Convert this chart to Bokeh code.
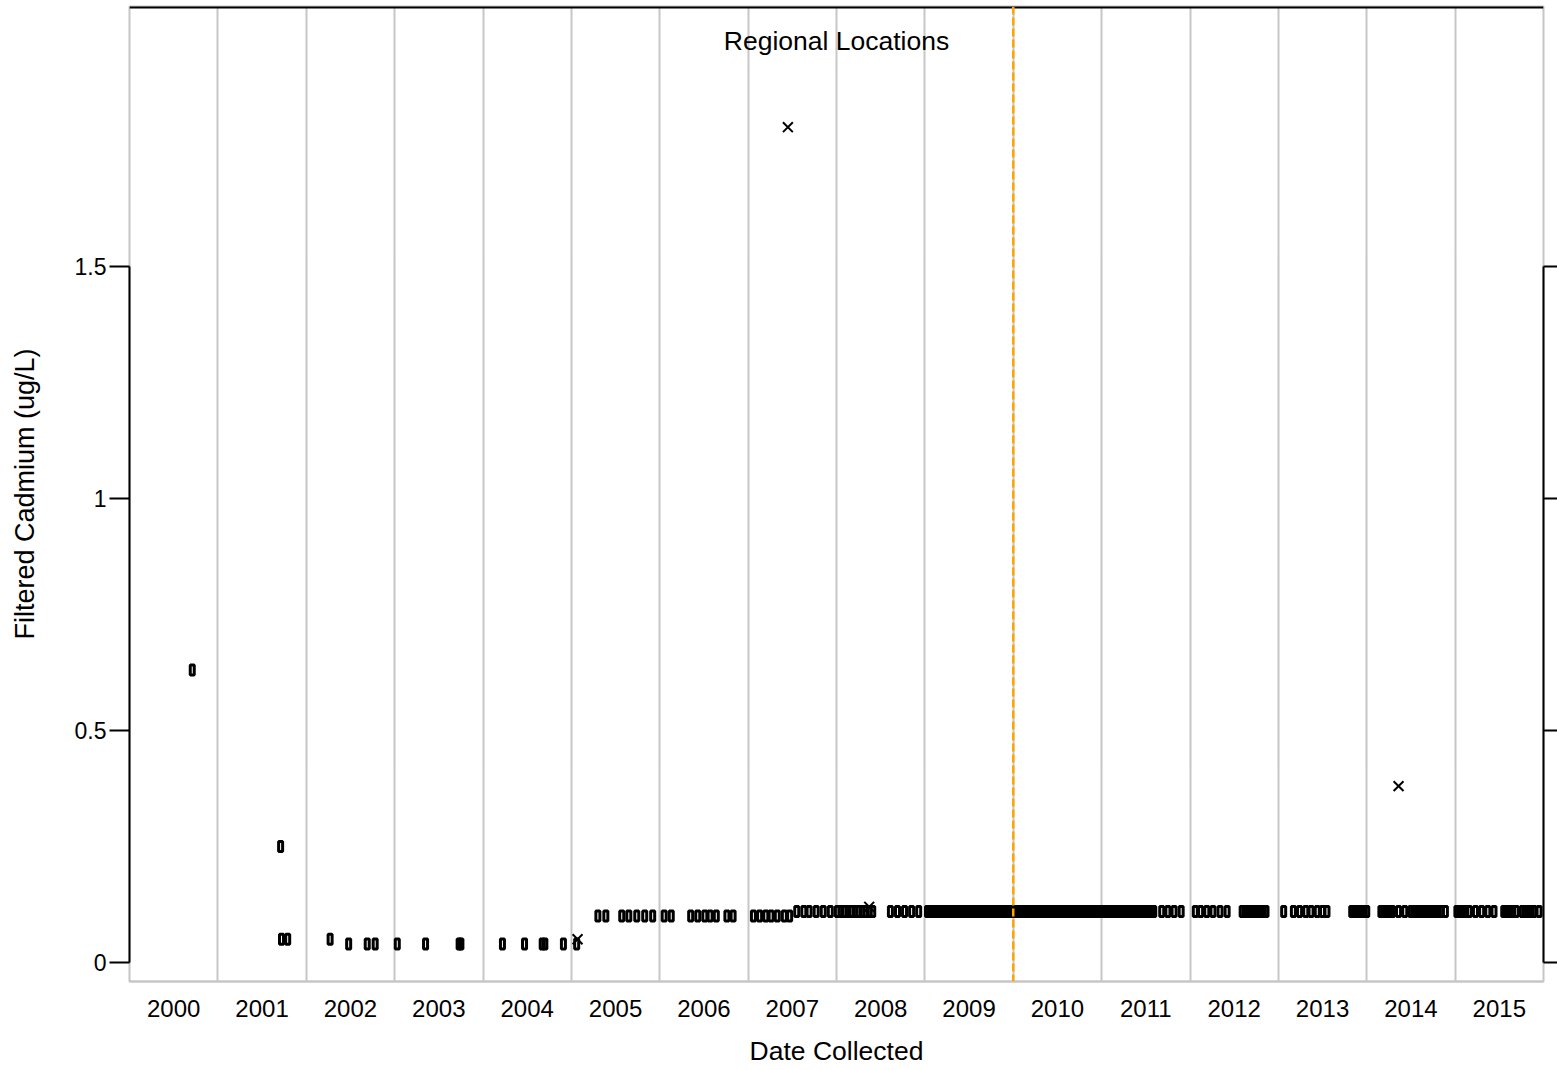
from bokeh.plotting import figure
from bokeh.models import FixedTicker, LinearAxis, Span, Label, ColumnDataSource, Range1d
from bokeh.embed import file_html
from bokeh.resources import INLINE

# ---------------- data (decimal year of collection, filtered cadmium ug/L) ----------------
year_ticks = [2000, 2001, 2002, 2003, 2004, 2005, 2006, 2007, 2008,
              2009, 2010, 2011, 2012, 2013, 2014, 2015, 2016]
year_labels = ["2000", "2001", "2002", "2003", "2004", "2005", "2006", "2007",
               "2008", "2009", "2010", "2011", "2012", "2013", "2014", "2015"]
y_ticks = [0, 0.5, 1, 1.5]
y_tick_labels = ["0", "0.5", "1", "1.5"]

# non-detect samples (drawn as open rectangles)
single_years = [2000.71, 2001.71]
single_values = [0.63, 0.25]

level_005_years = [2001.72, 2001.79, 2002.27]
level_004_years = [2002.48, 2002.69, 2002.78, 2003.03, 2003.35, 2003.73, 2003.75,
                   2004.22, 2004.47, 2004.67, 2004.70, 2004.91, 2005.06]
level_010_years = [2005.30, 2005.39, 2005.57, 2005.65, 2005.74, 2005.83, 2005.92,
                   2006.05, 2006.13, 2006.35, 2006.43, 2006.51, 2006.57, 2006.64,
                   2006.76, 2006.83, 2007.06, 2007.13, 2007.20, 2007.26, 2007.33,
                   2007.41, 2007.47]
level_011_years = [
    2007.55, 2007.63, 2007.69, 2007.77, 2007.85, 2007.93,
    2008.01, 2008.09, 2008.17, 2008.25, 2008.33, 2008.41, 2008.61, 2008.69,
    2008.77, 2008.85, 2008.93,
    2009.03, 2009.08, 2009.12, 2009.17, 2009.21, 2009.26, 2009.30, 2009.35,
    2009.39, 2009.44, 2009.48, 2009.53, 2009.57, 2009.62, 2009.66, 2009.71,
    2009.75, 2009.80, 2009.84, 2009.89, 2009.93, 2009.98,
    2010.02, 2010.06, 2010.11, 2010.15, 2010.20, 2010.24, 2010.29, 2010.33,
    2010.38, 2010.42, 2010.47, 2010.51, 2010.56, 2010.60, 2010.65, 2010.69,
    2010.74, 2010.78, 2010.83, 2010.87, 2010.92, 2010.96,
    2011.01, 2011.05, 2011.10, 2011.14, 2011.19, 2011.23, 2011.28, 2011.32,
    2011.37, 2011.41, 2011.46, 2011.50, 2011.55, 2011.59, 2011.68, 2011.75,
    2011.82, 2011.90,
    2012.06, 2012.12, 2012.19, 2012.26, 2012.34, 2012.42, 2012.59, 2012.66,
    2012.73, 2012.80, 2012.86,
    2013.06, 2013.17, 2013.24, 2013.31, 2013.37, 2013.44, 2013.50, 2013.55,
    2013.83, 2013.89, 2013.95,
    2014.00, 2014.16, 2014.22, 2014.29, 2014.36, 2014.43, 2014.50, 2014.57,
    2014.64, 2014.71, 2014.78, 2014.84, 2014.89,
    2015.02, 2015.09, 2015.16, 2015.23, 2015.30, 2015.37, 2015.44, 2015.55,
    2015.62, 2015.69, 2015.76, 2015.82, 2015.89, 2015.95]
# second set of regional sites sampled at 0.11 in the same periods
level_011_years_b = [
    2008.05, 2008.13, 2008.21, 2008.29, 2008.37,
    2009.05, 2009.10, 2009.15, 2009.19, 2009.24, 2009.28, 2009.33, 2009.37,
    2009.42, 2009.46, 2009.51, 2009.55, 2009.60, 2009.64, 2009.69, 2009.73,
    2009.78, 2009.82, 2009.87, 2009.91, 2009.96,
    2010.00, 2010.04, 2010.09, 2010.13, 2010.18, 2010.22, 2010.27, 2010.31,
    2010.36, 2010.40, 2010.45, 2010.49, 2010.54, 2010.58, 2010.63, 2010.67,
    2010.72, 2010.76, 2010.81, 2010.85, 2010.90, 2010.94, 2010.99,
    2011.03, 2011.08, 2011.12, 2011.17, 2011.21, 2011.26, 2011.30, 2011.35,
    2011.39, 2011.44, 2011.48, 2011.53, 2011.57,
    2012.62, 2012.69, 2012.76, 2012.83,
    2013.86, 2013.92, 2013.97,
    2014.19, 2014.26, 2014.53, 2014.60, 2014.67, 2014.74, 2014.81,
    2015.05, 2015.12, 2015.58, 2015.65, 2015.79, 2015.86]

# detected samples (drawn as x)
detect_years = [2005.07, 2007.45, 2008.37, 2014.36]
detect_values = [0.05, 1.80, 0.12, 0.38]

change_year = 2010.0

# ---------------- assemble ----------------
rect_x = (single_years + level_005_years + level_004_years
          + level_010_years + level_011_years + level_011_years_b)
rect_y = (single_values + [0.05] * len(level_005_years) + [0.04] * len(level_004_years)
          + [0.10] * len(level_010_years) + [0.11] * len(level_011_years)
          + [0.11] * len(level_011_years_b))
rect_src = ColumnDataSource(dict(x=rect_x, y=rect_y))
det_src = ColumnDataSource(dict(x=detect_years, y=detect_values))

FONT = "Liberation Sans"
GRID = "#c6c6c6"
Y_TOP = 2.060

p = figure(width=1557, height=1070, output_backend="svg", toolbar_location=None,
           x_range=Range1d(2000, 2016), y_range=Range1d(-0.041, Y_TOP),
           min_border_left=129, min_border_right=14, min_border_top=6,
           min_border_bottom=89)
p.background_fill_color = "white"
p.border_fill_color = "white"
p.outline_line_color = GRID
p.outline_line_width = 2

# grid: vertical year boundaries only
p.ygrid.visible = False
p.xgrid.ticker = FixedTicker(ticks=year_ticks)
p.xgrid.grid_line_color = GRID
p.xgrid.grid_line_width = 2

# x axis: labels centred in each year band
xa = p.xaxis[0]
mid_ticks = [y + 0.5 for y in year_ticks[:-1]]
xa.ticker = FixedTicker(ticks=mid_ticks)
xa.major_label_overrides = {t: lab for t, lab in zip(mid_ticks, year_labels)}
xa.major_tick_line_color = None
xa.minor_tick_line_color = None
xa.axis_line_color = GRID
xa.axis_line_width = 2
xa.major_label_text_font = FONT
xa.major_label_text_font_size = "24px"
xa.major_label_text_color = "black"
xa.major_label_standoff = 12
xa.axis_label = "Date Collected"
xa.axis_label_text_font = FONT
xa.axis_label_text_font_size = "26.5px"
xa.axis_label_text_font_style = "normal"
xa.axis_label_text_color = "black"
xa.axis_label_standoff = 16

# left y axis (range frame 0..1.5)
ya = p.yaxis[0]
ya.ticker = FixedTicker(ticks=y_ticks)
ya.major_label_overrides = {t: lab for t, lab in zip(y_ticks, y_tick_labels)}
ya.bounds = (0, 1.5)
ya.axis_line_color = "black"
ya.axis_line_width = 2
ya.major_tick_out = 20
ya.major_tick_in = 0
ya.major_tick_line_width = 2
ya.minor_tick_line_color = None
ya.major_label_standoff = 3
ya.major_label_text_font = FONT
ya.major_label_text_font_size = "23px"
ya.major_label_text_color = "black"
ya.axis_label = "Filtered Cadmium (ug/L)"
ya.axis_label_text_font = FONT
ya.axis_label_text_font_size = "27px"
ya.axis_label_text_font_style = "normal"
ya.axis_label_text_color = "black"
ya.axis_label_standoff = 32

# right y axis, ticks only
ra = LinearAxis(ticker=FixedTicker(ticks=y_ticks), bounds=(0, 1.5))
ra.major_label_overrides = {t: "" for t in y_ticks}
ra.axis_line_color = "black"
ra.axis_line_width = 2
ra.major_tick_out = 14
ra.major_tick_in = 0
ra.major_tick_line_width = 2
ra.minor_tick_line_color = None
ra.major_label_standoff = 0
p.add_layout(ra, "right")

# top border line
p.add_layout(Span(location=Y_TOP, dimension="width", line_color="black", line_width=4))

# vertical reference line
p.add_layout(Span(location=change_year, dimension="height", line_color="#FFA500",
                  line_width=2.5, line_dash="8 3"))

# markers
p.rect(x="x", y="y", width=4, height=10, width_units="screen", height_units="screen",
       fill_color=None, line_color="black", line_width=3, source=rect_src)
p.scatter(x="x", y="y", marker="x", size=14, line_color="black", line_width=2,
          source=det_src)

p.add_layout(Label(x=2008, y=1.985, text="Regional Locations", text_align="center",
                   text_baseline="middle", text_font=FONT, text_font_size="26.5px",
                   text_color="black"))

open("out.html", "w").write(file_html(p, INLINE))
